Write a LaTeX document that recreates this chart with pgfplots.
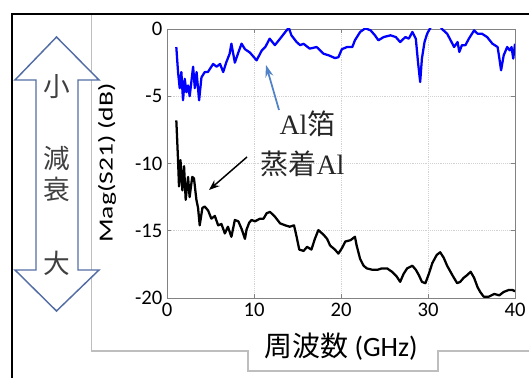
\documentclass[border=0pt]{standalone}
\usepackage{fontspec}
\setmainfont{Carlito}
\newfontfamily\jp{Noto Sans CJK JP}
\newfontfamily\tms{Liberation Serif}
\usepackage{graphicx}
\usepackage{pgfplots}
\pgfplotsset{compat=1.18}
\usetikzlibrary{arrows.meta}
\definecolor{arrowblue}{RGB}{84,110,165}
\definecolor{annblue}{RGB}{80,130,200}
\definecolor{framegray}{RGB}{190,190,190}
\definecolor{axgray}{RGB}{130,130,130}
\begin{document}
\begin{tikzpicture}[x=0.75pt,y=0.75pt]
\useasboundingbox (0,0) rectangle (529,378);
% outer frames
\draw[line width=1.7pt] (12.2,0) -- (12.2,363.8) -- (529,363.8);
\draw[color=framegray, line width=1pt] (91.5,363) -- (91.5,27) -- (248,27) -- (248,7) -- (438,7) -- (438,27) -- (529,27);
% double arrow
\draw[color=arrowblue, line width=1.1pt, fill=white] (56.5,341) -- (99,298) -- (78,298) -- (78,108) -- (99,108) -- (56.5,67) -- (15,108) -- (36,108) -- (36,298) -- (15,298) -- cycle;
\begin{scope}[every node/.style={font=\jp\fontsize{20}{20}\selectfont, text=black!75}]
\node at (57,291) {小};
\node at (57,220) {減};
\node at (57,189) {衰};
\node at (57,115) {大};
\end{scope}
\begin{axis}[
  at={(125.25pt,60pt)}, anchor=south west, scale only axis,
  width=261pt, height=201.75pt,
  xmin=0, xmax=40, ymin=-20, ymax=0,
  xtick={0,10,20,30,40}, ytick={-20,-15,-10,-5,0},
  grid=major, major grid style={densely dotted, gray!35},
  axis line style={axgray, line width=0.6pt},
  tick style={axgray, line width=0.6pt},
  major tick length=3pt,
  tick align=inside,
  tick label style={font=\fontsize{15.5}{16}\selectfont},
  /pgf/number format/assume math mode=true,
  xlabel={{\jp 周波数} (GHz)},
  xlabel style={font=\fontsize{21}{22}\selectfont, at={(axis description cs:0.5,-0.182)}, anchor=center},
  ylabel={\scalebox{1.38}[1]{Mag(S21) (dB)}},
  ylabel style={font=\fontsize{15}{15}\selectfont, at={(axis description cs:-0.172,0.502)}, anchor=center},
]
\addplot[blue, line width=1.7pt, line join=round] coordinates {
(1.07,-1.34) (1.27,-3.2) (1.46,-4.4) (1.65,-3.2) (1.84,-5.3) (2.04,-3.7) (2.23,-4.7) (2.42,-4.2) (2.61,-5.0)
(3.0,-2.8) (3.2,-4.4) (3.4,-3.2) (3.69,-5.3) (3.96,-3.6) (4.34,-3.2) (4.7,-3.2) (5.3,-2.6) (5.7,-2.8)
(6.1,-2.6) (6.46,-3.2) (6.8,-2.5) (7.2,-1.84) (7.4,-1.09) (7.8,-2.5) (8.2,-1.75) (8.57,-1.09) (8.96,-1.5)
(9.53,-1.75) (10.3,-2.33) (10.9,-1.59) (11.3,-1.34) (11.8,-0.72) (12.4,-1.2) (13.0,-0.72) (13.6,-0.22)
(14.0,0.1) (14.3,-0.47) (14.9,-0.97) (15.3,-1.2) (15.7,-1.1) (16.4,-1.46) (17.2,-1.34) (18.0,-1.84)
(18.6,-1.96) (19.3,-2.16) (19.7,-2.1) (20.1,-1.5) (20.7,-1.34) (21.3,-1.34) (21.6,-0.84) (22.2,-0.22)
(22.8,0.05) (23.4,-0.1) (23.9,-0.47) (24.3,-0.84) (24.9,-0.6) (25.7,-0.47) (26.3,-0.6) (26.8,-0.97)
(27.4,-0.6) (27.8,-0.72) (28.2,-0.22) (28.6,-0.72) (28.85,-2.45) (29.1,-3.94) (29.3,-2.2) (29.6,-0.97)
(29.9,-0.35) (30.2,0.0) (30.6,0.5) (31.1,0.6) (31.6,0.0) (32.2,-0.35) (32.6,-0.84) (33.0,-1.34)
(33.4,-0.97) (33.6,-1.71) (33.9,-1.2) (34.3,-1.2) (34.7,-0.72) (35.3,-0.1) (35.7,-0.35) (36.2,-0.35)
(36.8,-0.6) (37.4,-1.09) (38.0,-1.34) (38.15,-1.96) (38.4,-3.07) (38.7,-1.96) (39.1,-1.34) (39.4,-1.59)
(39.6,-1.34) (39.8,-2.2) (40.0,-1.1)
};
\addplot[black, line width=1.7pt, line join=round] coordinates {
(1.07,-6.8) (1.12,-7.5) (1.27,-9.75) (1.38,-11.7) (1.55,-9.75) (1.77,-12.0) (1.96,-10.2) (2.15,-12.7)
(2.42,-11.0) (2.6,-12.5) (2.9,-11.0) (3.1,-11.1) (3.38,-12.7) (3.57,-13.3) (3.76,-14.6) (4.07,-13.3)
(4.34,-13.2) (4.73,-13.5) (5.1,-14.1) (5.5,-13.9) (5.88,-14.6) (6.26,-14.5) (6.65,-15.2) (7.0,-14.7)
(7.4,-15.45) (7.8,-14.2) (8.2,-14.3) (8.6,-14.9) (8.96,-15.6) (9.15,-14.9) (9.45,-14.4) (9.72,-14.2)
(10.1,-14.3) (10.7,-14.1) (11.1,-14.1) (11.45,-13.7) (11.84,-13.6) (12.4,-13.95) (13.0,-14.45)
(13.6,-14.6) (14.1,-14.7) (14.6,-14.6) (14.9,-15.45) (15.2,-16.4) (15.7,-16.5) (16.1,-16.2) (16.6,-16.4)
(17.0,-15.6) (17.4,-14.95) (18.0,-15.3) (18.4,-15.6) (18.75,-16.1) (19.3,-16.4) (19.7,-16.7) (20.1,-16.3)
(20.5,-15.8) (21.1,-15.7) (21.6,-15.45) (21.8,-16.1) (22.2,-17.1) (22.6,-17.6) (22.97,-17.8) (23.6,-17.9)
(24.2,-17.9) (24.7,-17.8) (25.3,-17.8) (25.86,-18.05) (26.4,-18.4) (26.8,-18.8) (27.2,-18.2) (27.6,-17.8)
(28.2,-17.6) (28.6,-17.9) (28.95,-18.3) (29.3,-18.8) (29.7,-18.9) (30.1,-18.2) (30.5,-17.4) (31.0,-16.8)
(31.4,-16.6) (31.8,-17.0) (32.2,-17.6) (32.8,-18.3) (33.35,-18.9) (33.7,-18.8) (34.1,-18.5) (34.5,-18.3)
(34.9,-18.05) (35.3,-18.5) (35.7,-19.2) (36.0,-19.55) (36.4,-19.9) (37.0,-19.9) (37.6,-19.7) (38.2,-19.8)
(38.7,-19.55) (39.3,-19.4) (39.7,-19.4) (40.0,-19.5)
};
\end{axis}
% annotations
\node[font=\fontsize{21}{22}\selectfont, text=black!85] at (307.5,254.5) {{\tms Al}{\jp 箔}};
\node[font=\fontsize{21}{22}\selectfont, text=black!85] at (302.5,214) {{\jp 蒸着}{\tms Al}};
\draw[-{Stealth[length=9pt,width=6pt]}, color=annblue, line width=1.3pt] (279,268) -- (266,313);
\draw[-{Stealth[length=8pt,width=6pt]}, black, line width=1.1pt] (247,221) -- (209,188);
\end{tikzpicture}
\end{document}
